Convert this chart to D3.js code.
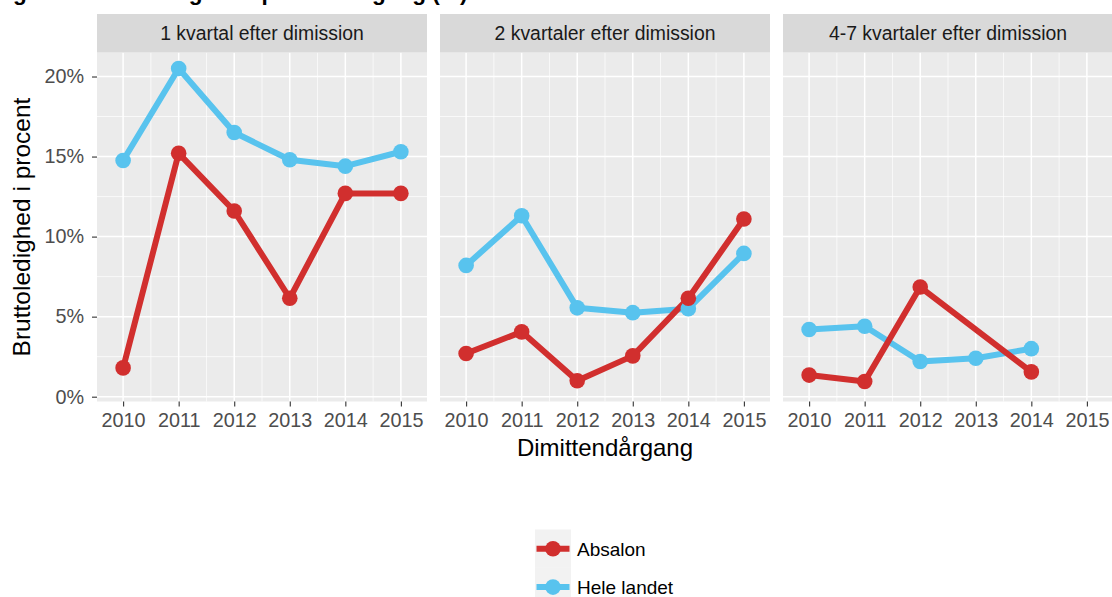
<!DOCTYPE html>
<meta charset="utf-8">
<title>Bruttoledighed</title>
<style>
body {
  margin: 0px;
  background: #fff;
}
svg {
  display: block;
  font-family: "Liberation Sans", Arial, sans-serif;
}
</style>

<script src="https://d3js.org/d3.v7.min.js"></script>

<body>
<script>
var width = 1112, height = 597;

// data
var years = [2010, 2011, 2012, 2013, 2014, 2015];
var panelNames = ["1 kvartal efter dimission", "2 kvartaler efter dimission", "4-7 kvartaler efter dimission"];
var seriesNames = ["Absalon", "Hele landet"];
var yTicks = [0, 5, 10, 15, 20];

// values in percent, null = no data
var absalon1 = [1.8, 15.2, 11.6, 6.15, 12.7, 12.7];
var hele1    = [14.75, 20.5, 16.5, 14.8, 14.4, 15.3];
var absalon2 = [2.7, 4.05, 1.0, 2.55, 6.15, 11.1];
var hele2    = [8.2, 11.3, 5.55, 5.25, 5.5, 8.95];
var absalon3 = [1.35, 0.95, 6.85, null, 1.55, null];
var hele3    = [4.2, 4.4, 2.2, 2.4, 3.0, null];

var panelData = [
  [absalon1, hele1],
  [absalon2, hele2],
  [absalon3, hele3]
];
var colors = ["#d12f2e", "#58c3ee"];

var panelLeft = [97, 440, 783], panelW = 330;
var panelTop = 52.5, panelH = 349;
var stripTop = 14, stripH = 38.5;

var svg = d3.select("body").append("svg")
    .attr("width", width)
    .attr("height", height);

// title, cut off at the top edge like in the source picture
svg.append("text")
    .attr("x", -7)
    .attr("y", 0)
    .style("font-weight", "bold")
    .style("font-size", "22.6px")
    .text("Figur 3: Bruttoledighed i procent årgang (%)");

var x = d3.scaleLinear().domain([2009.53, 2015.47]).range([0, panelW]);
var y = d3.scaleLinear().domain([-0.3, 21.5]).range([panelH, 0]);

var line = d3.line()
    .x(function(d) { return x(d.year); })
    .y(function(d) { return y(d.value); });

panelNames.forEach(function(name, p) {
  var g = svg.append("g")
      .attr("transform", "translate(" + panelLeft[p] + "," + panelTop + ")");

  // strip
  svg.append("rect")
      .attr("x", panelLeft[p])
      .attr("y", stripTop)
      .attr("width", panelW)
      .attr("height", stripH)
      .attr("fill", "#d9d9d9");
  svg.append("text")
      .attr("x", panelLeft[p] + panelW / 2)
      .attr("y", stripTop + stripH / 2 + 7)
      .attr("text-anchor", "middle")
      .style("font-size", "19.4px")
      .style("fill", "#1a1a1a")
      .text(name);

  // panel background
  g.append("rect")
      .attr("width", panelW)
      .attr("height", panelH)
      .attr("fill", "#ebebeb");

  // minor grid
  g.selectAll("line.ymin")
      .data([2.5, 7.5, 12.5, 17.5])
    .enter().append("line")
      .attr("x1", 0).attr("x2", panelW)
      .attr("y1", function(d) { return y(d); })
      .attr("y2", function(d) { return y(d); })
      .attr("stroke", "#fff").attr("stroke-width", 0.7);
  g.selectAll("line.xmin")
      .data([2010.5, 2011.5, 2012.5, 2013.5, 2014.5])
    .enter().append("line")
      .attr("y1", 0).attr("y2", panelH)
      .attr("x1", function(d) { return x(d); })
      .attr("x2", function(d) { return x(d); })
      .attr("stroke", "#fff").attr("stroke-width", 0.7);

  // major grid
  g.selectAll("line.ymaj")
      .data(yTicks)
    .enter().append("line")
      .attr("x1", 0).attr("x2", panelW)
      .attr("y1", function(d) { return y(d); })
      .attr("y2", function(d) { return y(d); })
      .attr("stroke", "#fff").attr("stroke-width", 1.5);
  g.selectAll("line.xmaj")
      .data(years)
    .enter().append("line")
      .attr("y1", 0).attr("y2", panelH)
      .attr("x1", function(d) { return x(d); })
      .attr("x2", function(d) { return x(d); })
      .attr("stroke", "#fff").attr("stroke-width", 1.5);

  // x axis
  var xa = g.append("g")
      .attr("transform", "translate(0," + panelH + ")")
      .call(d3.axisBottom(x).tickValues(years).tickFormat(d3.format("d"))
        .tickSize(5).tickPadding(6.5));
  xa.select(".domain").remove();
  xa.selectAll(".tick text").style("font-size", "19.8px").attr("fill", "#4d4d4d");
  xa.selectAll(".tick line").attr("stroke", "#333").attr("stroke-width", 1.1);

  // y axis only on the first panel
  if (p == 0) {
    var ya = g.append("g")
        .call(d3.axisLeft(y).tickValues(yTicks).tickFormat(function(d) { return d + "%"; })
          .tickSize(5).tickPadding(8));
    ya.select(".domain").remove();
    ya.selectAll(".tick text").style("font-size", "19.8px").attr("fill", "#4d4d4d");
    ya.selectAll(".tick line").attr("stroke", "#333").attr("stroke-width", 1.1);
  }

  // series: blue below, red on top
  var series = panelData[p].map(function(vals, s) {
    return {
      name: seriesNames[s],
      color: colors[s],
      points: years.map(function(yr, i) { return {year: yr, value: vals[i]}; })
        .filter(function(d) { return d.value != null; })
    };
  }).reverse();

  g.selectAll("path.series")
      .data(series)
    .enter().append("path")
      .attr("class", "series")
      .attr("fill", "none")
      .attr("stroke", function(d) { return d.color; })
      .attr("stroke-width", 6)
      .attr("stroke-linejoin", "round")
      .attr("d", function(d) { return line(d.points); });

  series.forEach(function(s) {
    g.selectAll(null)
        .data(s.points)
      .enter().append("circle")
        .attr("cx", function(d) { return x(d.year); })
        .attr("cy", function(d) { return y(d.value); })
        .attr("r", 7.8)
        .attr("fill", s.color);
  });
});

// axis titles
svg.append("text")
    .attr("x", (panelLeft[0] + panelLeft[2] + panelW) / 2)
    .attr("y", 456)
    .attr("text-anchor", "middle")
    .style("font-size", "24px")
    .text("Dimittendårgang");

svg.append("text")
    .attr("transform", "translate(30," + (panelTop + panelH / 2) + ") rotate(-90)")
    .attr("text-anchor", "middle")
    .style("font-size", "24.5px")
    .text("Bruttoledighed i procent");

// legend
var legend = svg.append("g")
    .attr("class", "legend")
    .attr("transform", "translate(535,529.5)");
var keyH = 38.4, keyW = 36;
seriesNames.forEach(function(name, i) {
  var row = legend.append("g").attr("transform", "translate(0," + i * keyH + ")");
  row.append("rect")
      .attr("width", keyW).attr("height", keyH)
      .attr("fill", "#f2f2f2");
  row.append("line")
      .attr("x1", 1.5).attr("x2", keyW - 1.5)
      .attr("y1", keyH / 2).attr("y2", keyH / 2)
      .attr("stroke", colors[i]).attr("stroke-width", 6);
  row.append("circle")
      .attr("cx", keyW / 2).attr("cy", keyH / 2)
      .attr("r", 7.8)
      .attr("fill", colors[i]);
  row.append("text")
      .attr("x", keyW + 6)
      .attr("y", keyH / 2 + 6.8)
      .style("font-size", "19px")
      .text(name);
});
</script>
